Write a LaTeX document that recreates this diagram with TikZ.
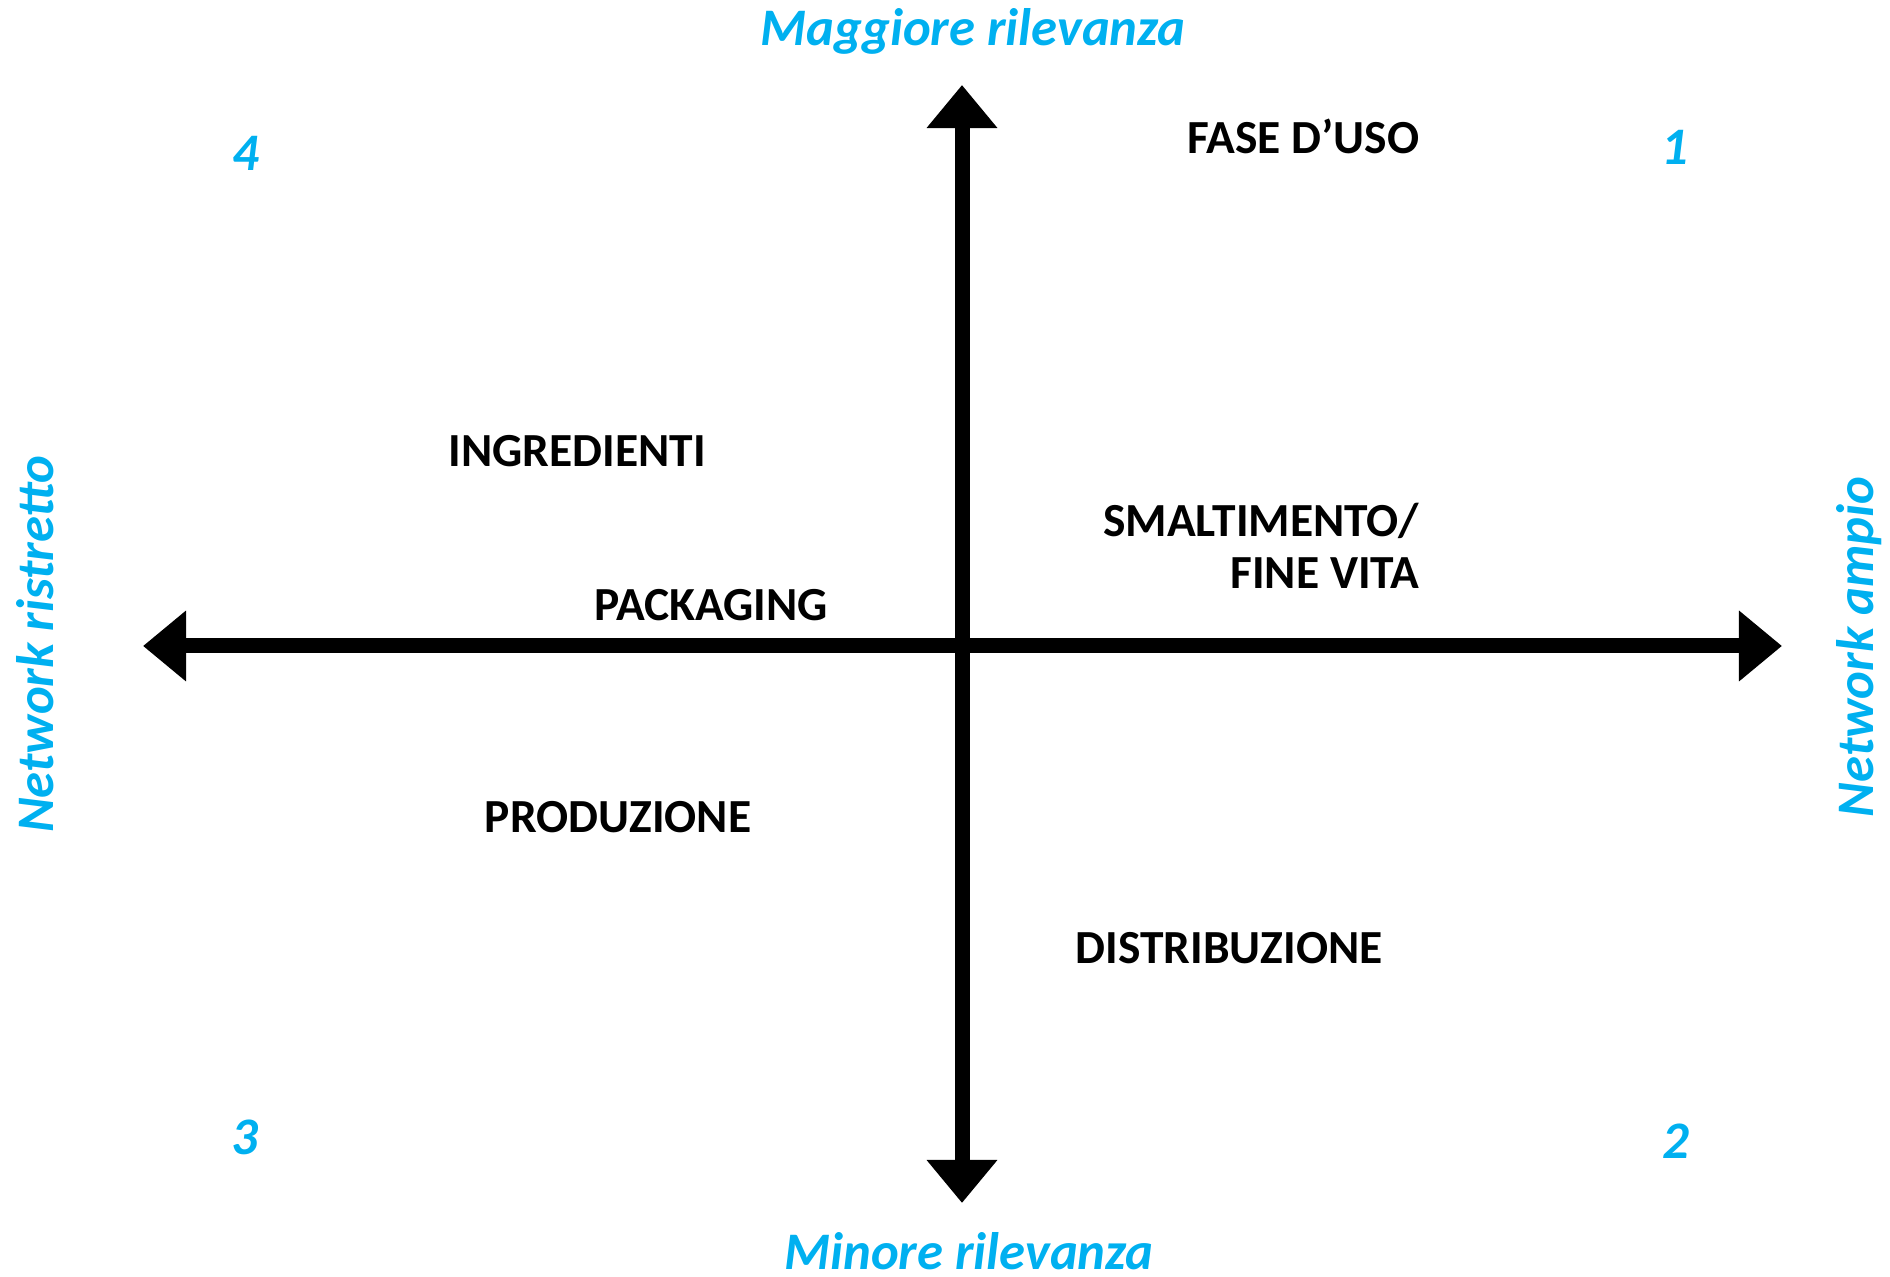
\documentclass[tikz,border=0pt]{standalone}
\usepackage{fontspec}
\setmainfont{Carlito}
\usetikzlibrary{arrows.meta}
\definecolor{mblue}{RGB}{0,176,240}

\begin{document}
\begin{tikzpicture}[x=0.01cm, y=-0.01cm,
    axis/.style={line width=1.5mm,
      {Triangle[length=4.3mm,width=6.8mm]}-{Triangle[length=4.3mm,width=6.8mm]}},
    phase/.style={font=\fontsize{13.5}{14.8}\selectfont\bfseries, inner sep=0pt},
    side/.style={font=\fontsize{15}{18}\selectfont\bfseries\itshape, text=mblue, inner sep=0pt}]
  \useasboundingbox (0, 0) rectangle (1890, 1277);

  \coordinate (ytop) at (962, 85);
  \coordinate (ybot) at (962, 1203);
  \coordinate (xleft) at (143, 646);
  \coordinate (xright) at (1782, 646);
  \draw [axis] (ybot) -- (ytop);
  \draw [axis] (xleft) -- (xright);

  \node [side, anchor=base] (maxrel) at (973, 46) {Maggiore rilevanza};
  \node [side, anchor=base] (minrel) at (969, 1270) {Minore rilevanza};
  \node [side, anchor=base, rotate=90] (narrow) at (53, 644) {Network ristretto};
  \node [side, anchor=base, rotate=90] (wide) at (1873, 647) {Network ampio};

  \node [side, anchor=base] (q1) at (1675, 165) {1};
  \node [side, anchor=base] (q2) at (1676, 1159) {2};
  \node [side, anchor=base] (q3) at (245, 1155) {3};
  \node [side, anchor=base] (q4) at (246, 171) {4};

  \node [phase, anchor=base east] (uso) at (1420, 154) {FASE D’USO};
  \node [phase, anchor=north east, align=right] (fine) at (1420, 502) {SMALTIMENTO/\\FINE VITA};
  \node [phase, anchor=base] (ingr) at (577, 467) {INGREDIENTI};
  \node [phase, anchor=base] (pack) at (711, 621) {PACKAGING};
  \node [phase, anchor=base] (prod) at (618, 833) {PRODUZIONE};
  \node [phase, anchor=base] (distr) at (1229, 964) {DISTRIBUZIONE};
\end{tikzpicture}
\end{document}
